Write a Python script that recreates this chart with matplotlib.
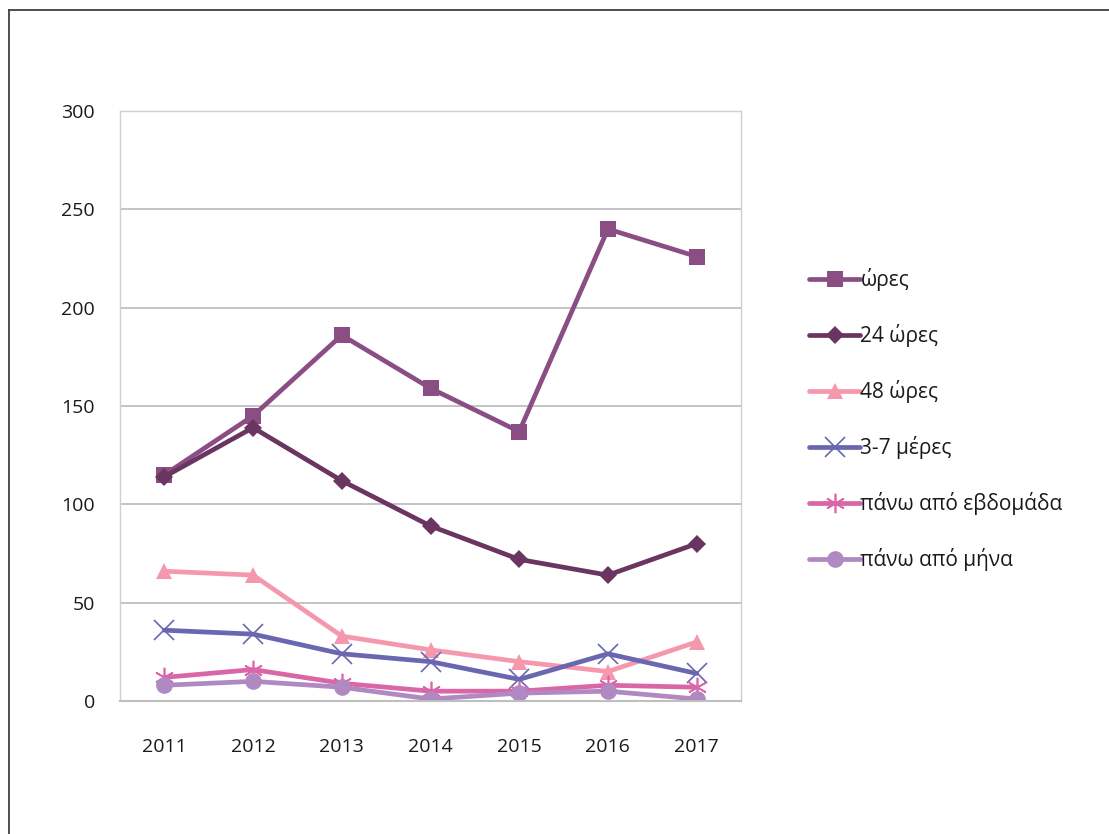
import matplotlib.pyplot as plt
from matplotlib.lines import Line2D

# Data
years = ['2011', '2012', '2013', '2014', '2015', '2016', '2017']
hours = [115, 145, 186, 159, 137, 240, 226]
hours_24 = [114, 139, 112, 89, 72, 64, 80]
hours_48 = [66, 64, 33, 26, 20, 15, 30]
days_3_7 = [36, 34, 24, 20, 11, 24, 14]
over_week = [12, 16, 9, 5, 5, 8, 7]
over_month = [8, 10, 7, 1, 4, 5, 1]

labels = ['ώρες', '24 ώρες', '48 ώρες', '3-7 μέρες', 'πάνω από εβδομάδα', 'πάνω από μήνα']
series = [hours, hours_24, hours_48, days_3_7, over_week, over_month]
colors = ['#8A4E85', '#6A3560', '#F598AE', '#6A66B0', '#DA66A8', '#B088C2']
markers = ['s', 'D', '^', 'x', '*', 'o']
msizes = [12, 9, 12, 14, 14, 12]

plt.rcParams['font.family'] = ['Open Sans', 'DejaVu Sans']

fig = plt.figure(figsize=(11.09, 8.34), dpi=100)
ax = fig.add_axes([120 / 1109, 133 / 834, 621 / 1109, 590 / 834])

x = range(len(years))
for vals, lab, c, m, ms in zip(series, labels, colors, markers, msizes):
    if m in ('x', '*'):
        ax.plot(x, vals, color=c, lw=3.4, marker='x' if m == 'x' else (6, 2, 0),
                markersize=ms, markeredgewidth=1.2, markerfacecolor=c,
                markeredgecolor=c, label=lab, solid_capstyle='round')
    else:
        ax.plot(x, vals, color=c, lw=3.4, marker=m, markersize=ms,
                markeredgewidth=0, markerfacecolor=c, label=lab,
                solid_capstyle='round')

ax.set_xlim(-0.5, 6.5)
ax.set_ylim(0, 300)
ax.set_yticks(range(0, 301, 50))
ax.set_xticks(list(x))
ax.set_xticklabels(years)
ax.grid(axis='y', color='#BFBFBF', lw=1.3)
ax.set_axisbelow(True)
ax.tick_params(length=0, labelsize=14, colors='#1a1a1a')
ax.tick_params(axis='y', pad=18)
ax.tick_params(axis='x', pad=27)
for s in ax.spines.values():
    s.set_color('#D0D0D0')
    s.set_linewidth(1)
ax.spines['bottom'].set_color('#BFBFBF')
ax.spines['bottom'].set_linewidth(1.5)

fig.legend(loc='upper left', bbox_to_anchor=(799 / 1109, 1 - 258 / 834),
           frameon=False, fontsize=15, labelspacing=1.58, handlelength=2.45,
           handletextpad=0.0, borderpad=0, labelcolor='#1a1a1a')

# outer chart frame (only left and top edges visible)
fig.add_artist(Line2D([9 / 1109, 9 / 1109], [0, 1 - 10 / 834],
                      transform=fig.transFigure, color='#404040', lw=1.3))
fig.add_artist(Line2D([9 / 1109, 1], [1 - 10 / 834, 1 - 10 / 834],
                      transform=fig.transFigure, color='#404040', lw=1.3))

fig.savefig('out.png', dpi=100)
